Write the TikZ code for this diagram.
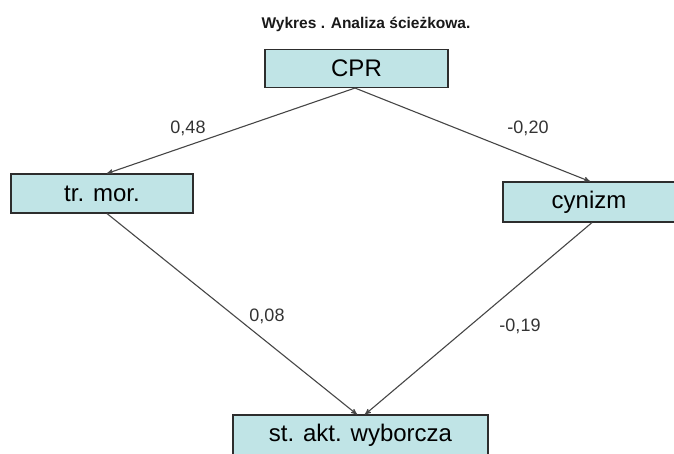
\documentclass[tikz,border=0pt]{standalone}
\usepackage{fontspec}
\setmainfont{Liberation Sans}
\usetikzlibrary{arrows}
\definecolor{boxfill}{RGB}{192,228,230}
\definecolor{boxline}{RGB}{45,45,45}
\definecolor{pathline}{RGB}{70,70,70}
\begin{document}
\begin{tikzpicture}[x=1pt,y=-1pt,->,>=stealth',shorten >=0pt,
  line width=1.1pt,draw=pathline,
  box node/.style={rectangle,draw=boxline,fill=boxfill,inner sep=0pt,
    line width=1.1pt,font=\fontsize{24}{28}\selectfont},
  coef/.style={font=\fontsize{18}{22}\selectfont,text=black!80}]
  \useasboundingbox (0,0) rectangle (674,453);

  \node[font=\bfseries\fontsize{15.5}{18}\selectfont,text=black!90] (title) at (366,24) {Wykres . Analiza ścieżkowa.};

  \node[box node, minimum width=183pt, minimum height=38pt] (CPR) at (356.5,68.5) {CPR};
  \node[box node, minimum width=182pt, minimum height=39pt] (trmor) at (102,193.5) {tr. mor.};
  \node[box node, minimum width=172pt, minimum height=40pt] (cynizm) at (589,202) {cynizm};
  \node[box node, minimum width=255pt, minimum height=41pt] (stakt) at (360.5,435.5) {st. akt. wyborcza};

  \path
    ([xshift=-1.5pt]CPR.south) edge ([xshift=5pt]trmor.north)
    ([xshift=-1.5pt]CPR.south) edge ([xshift=1pt]cynizm.north)
    ([xshift=5pt]trmor.south) edge ([xshift=-3.5pt]stakt.north)
    ([xshift=3pt]cynizm.south) edge ([xshift=4.5pt]stakt.north);

  \node[coef] (w48) at (188,128) {0,48};
  \node[coef] (w20) at (528,128) {-0,20};
  \node[coef] (w08) at (267,316) {0,08};
  \node[coef] (w19) at (520,326) {-0,19};
\end{tikzpicture}
\end{document}
